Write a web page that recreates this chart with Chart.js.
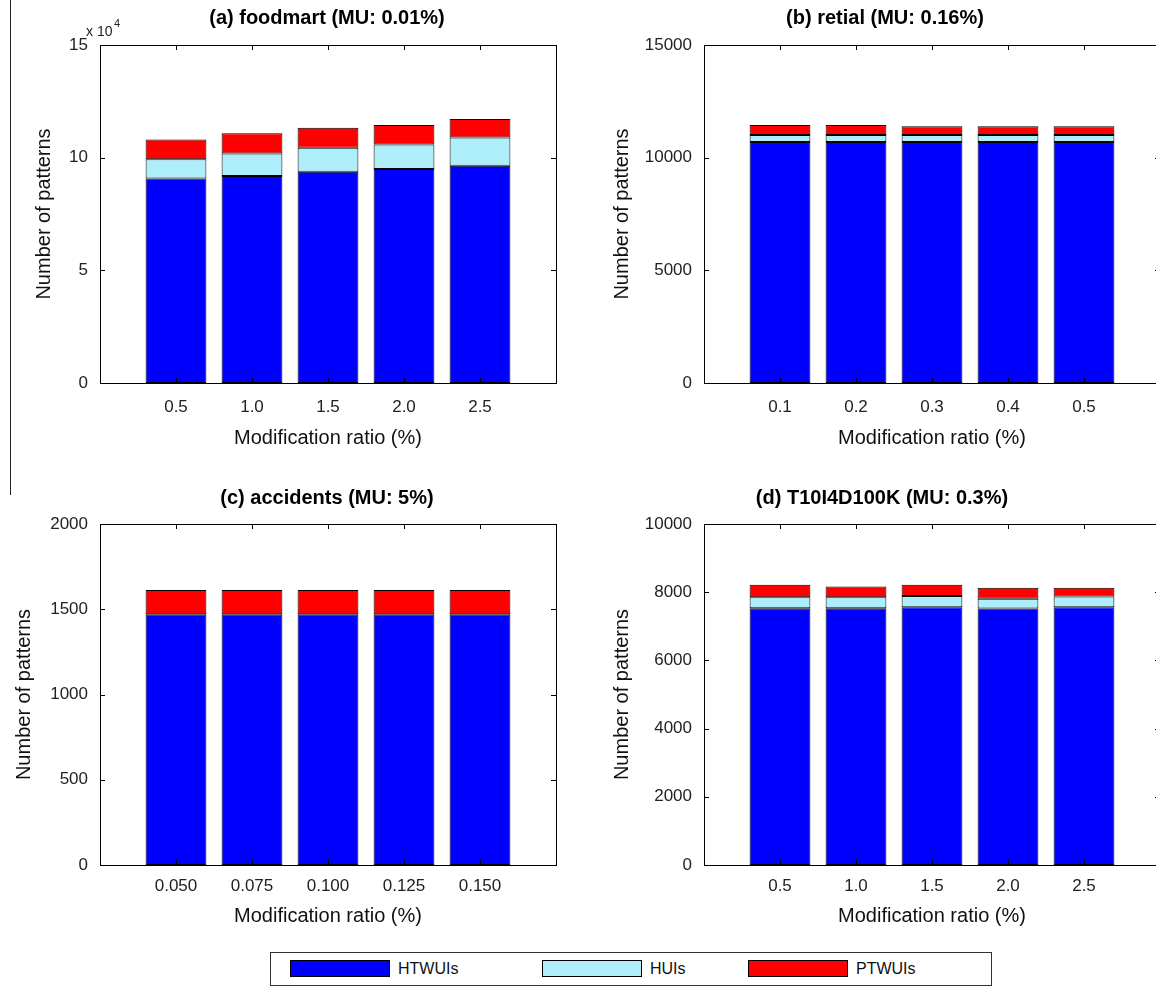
<!DOCTYPE html>
<html>
<head>
<meta charset="utf-8">
<title>Number of patterns vs modification ratio</title>
<script src="https://cdn.jsdelivr.net/npm/chart.js@4.4.1/dist/chart.umd.min.js"></script>
<style>
  html, body { margin: 0; padding: 0; width: 1156px; height: 987px; overflow: hidden; background: #fff; }
  .panel { position: absolute; }
  #sideLine { position: absolute; left: 10px; top: 0; width: 1px; height: 495px; background: #222; }
  #legend {
    position: absolute; left: 270px; top: 952px; width: 720px; height: 32px;
    border: 1px solid #333; background: #fff;
    font-family: 'Liberation Sans', Arial, sans-serif; font-size: 16px; color: #111;
  }
  #legend .item { position: absolute; top: 7px; height: 18px; line-height: 18px; }
  #legend .swatch { position: absolute; top: 0; left: 0; width: 100px; height: 17px; border: 1px solid #000; box-sizing: border-box; }
  #legend .label { position: absolute; left: 108px; top: 0; white-space: nowrap; }
</style>
</head>
<body>
<div id="sideLine"></div>
<canvas id="chartA" class="panel"></canvas>
<canvas id="chartB" class="panel"></canvas>
<canvas id="chartC" class="panel"></canvas>
<canvas id="chartD" class="panel"></canvas>
<div id="legend"></div>

<script>
// series
const seriesNames = ['HTWUIs', 'HUIs', 'PTWUIs'];
const seriesColors = ['#0000ff', '#aeeefa', '#ff0000'];

// (a) foodmart
const foodmartRatios = ['0.5', '1.0', '1.5', '2.0', '2.5'];
const foodmartHTWUIs = [90700, 91900, 93800, 95000, 96400];
const foodmartHUIs = [8600, 9900, 10600, 10800, 12500];
const foodmartPTWUIs = [8800, 9000, 8900, 8700, 8300];
const foodmartTicks = [0, 50000, 100000, 150000];

// (b) retial
const retailRatios = ['0.1', '0.2', '0.3', '0.4', '0.5'];
const retailHTWUIs = [10690, 10690, 10690, 10690, 10690];
const retailHUIs = [320, 320, 320, 320, 320];
const retailPTWUIs = [445, 445, 385, 385, 385];
const retailTicks = [0, 5000, 10000, 15000];

// (c) accidents
const accidentsRatios = ['0.050', '0.075', '0.100', '0.125', '0.150'];
const accidentsHTWUIs = [1470, 1470, 1470, 1470, 1470];
const accidentsHUIs = [0, 0, 0, 0, 0];
const accidentsPTWUIs = [143, 143, 143, 143, 143];
const accidentsTicks = [0, 500, 1000, 1500, 2000];

// (d) T10I4D100K
const t10Ratios = ['0.5', '1.0', '1.5', '2.0', '2.5'];
const t10HTWUIs = [7530, 7530, 7560, 7520, 7560];
const t10HUIs = [325, 325, 325, 290, 315];
const t10PTWUIs = [365, 315, 335, 320, 255];
const t10Ticks = [0, 2000, 4000, 6000, 8000, 10000];

const FONT = "'Liberation Sans', Arial, sans-serif";

// MATLAB style box, inward ticks, panel title
const matlabBox = {
  id: 'matlabBox',
  afterDraw(chart, args, opts) {
    const { ctx, chartArea: a, scales } = chart;
    ctx.save();
    ctx.strokeStyle = '#000';
    ctx.lineWidth = 1;
    ctx.strokeRect(Math.round(a.left) + 0.5, Math.round(a.top) + 0.5,
                   Math.round(a.right - a.left), Math.round(a.bottom - a.top));
    ctx.beginPath();
    scales.x.ticks.forEach(t => {
      const px = Math.round(scales.x.getPixelForValue(t.value)) + 0.5;
      ctx.moveTo(px, a.bottom); ctx.lineTo(px, a.bottom - 5);
      ctx.moveTo(px, a.top); ctx.lineTo(px, a.top + 5);
    });
    scales.y.ticks.forEach(t => {
      const py = Math.round(scales.y.getPixelForValue(t.value)) + 0.5;
      ctx.moveTo(a.left, py); ctx.lineTo(a.left + 5, py);
      ctx.moveTo(a.right, py); ctx.lineTo(a.right - 5, py);
    });
    ctx.stroke();

    ctx.fillStyle = '#000';
    ctx.font = 'bold 20px ' + FONT;
    ctx.textAlign = 'center';
    ctx.textBaseline = 'middle';
    ctx.fillText(opts.title, opts.titleX, 18);

    if (opts.exponent) {
      ctx.font = '14px ' + FONT;
      ctx.fillStyle = '#222';
      ctx.textAlign = 'left';
      ctx.fillText('x 10', 86, 32);
      ctx.font = '11px ' + FONT;
      ctx.fillText(opts.exponent, 114, 24);
    }
    ctx.restore();
  }
};

function makePanel(id, pos, cfg) {
  const canvas = document.getElementById(id);
  canvas.style.left = pos.left + 'px';
  canvas.style.top = pos.top + 'px';
  canvas.width = pos.width;
  canvas.height = pos.height;
  canvas.style.width = pos.width + 'px';
  canvas.style.height = pos.height + 'px';

  const stacks = [cfg.htwuis, cfg.huis, cfg.ptwuis];
  const datasets = stacks.map((vals, k) => ({
    label: seriesNames[k],
    data: vals.map((v, i) => ({ x: i + 1, y: v })),
    backgroundColor: seriesColors[k],
    borderColor: '#000',
    borderWidth: 1,
    borderSkipped: false,
    barPercentage: 1.0,
    categoryPercentage: 0.8
  }));

  return new Chart(canvas, {
    type: 'bar',
    data: { datasets },
    options: {
      responsive: false,
      animation: false,
      events: [],
      layout: { padding: { top: pos.plotTop, right: pos.width - pos.plotRight, left: 0, bottom: 0 } },
      plugins: {
        legend: { display: false },
        tooltip: { enabled: false },
        matlabBox: { title: cfg.title, titleX: cfg.titleX, exponent: cfg.exponent }
      },
      scales: {
        x: {
          type: 'linear',
          stacked: true,
          offset: false,
          min: 0,
          max: 6,
          afterBuildTicks: s => { s.ticks = cfg.ratios.map((r, i) => ({ value: i + 1 })); },
          afterFit: s => { s.height = pos.height - pos.plotBottom; },
          grid: { display: false, drawTicks: false },
          border: { display: false },
          ticks: {
            autoSkip: false, maxRotation: 0, padding: pos.xTickPad,
            color: '#222', font: { family: FONT, size: 17 },
            callback: v => cfg.ratios[v - 1] ?? ''
          },
          title: {
            display: true, text: 'Modification ratio (%)', color: '#111',
            font: { family: FONT, size: 20 }, padding: { top: 0, bottom: pos.xTitlePad }
          }
        },
        y: {
          stacked: true,
          min: cfg.yTicks[0],
          max: cfg.yTicks[cfg.yTicks.length - 1],
          afterBuildTicks: s => { s.ticks = cfg.yTicks.map(v => ({ value: v })); },
          afterFit: s => { s.width = pos.plotLeft; },
          grid: { display: false, drawTicks: false },
          border: { display: false },
          ticks: {
            padding: 12, color: '#222', font: { family: FONT, size: 17 },
            callback: v => cfg.yScale ? String(v / cfg.yScale) : String(v)
          },
          title: {
            display: true, text: 'Number of patterns', color: '#111',
            font: { family: FONT, size: 20 }, padding: { top: cfg.yTitlePad, bottom: 0 }
          }
        }
      }
    },
    plugins: [matlabBox]
  });
}

makePanel('chartA',
  { left: 0, top: 0, width: 580, height: 480, plotLeft: 100, plotRight: 556, plotTop: 45, plotBottom: 383, xTickPad: 14, xTitlePad: 30 },
  { title: '(a) foodmart (MU: 0.01%)', titleX: 327, exponent: '4', yScale: 10000, yTitlePad: 32,
    ratios: foodmartRatios, htwuis: foodmartHTWUIs, huis: foodmartHUIs, ptwuis: foodmartPTWUIs, yTicks: foodmartTicks });

makePanel('chartB',
  { left: 580, top: 0, width: 600, height: 480, plotLeft: 124, plotRight: 580, plotTop: 45, plotBottom: 383, xTickPad: 14, xTitlePad: 30 },
  { title: '(b) retial (MU: 0.16%)', titleX: 305, yTitlePad: 30,
    ratios: retailRatios, htwuis: retailHTWUIs, huis: retailHUIs, ptwuis: retailPTWUIs, yTicks: retailTicks });

makePanel('chartC',
  { left: 0, top: 480, width: 580, height: 470, plotLeft: 100, plotRight: 556, plotTop: 44, plotBottom: 385, xTickPad: 11, xTitlePad: 22 },
  { title: '(c) accidents (MU: 5%)', titleX: 327, yTitlePad: 12,
    ratios: accidentsRatios, htwuis: accidentsHTWUIs, huis: accidentsHUIs, ptwuis: accidentsPTWUIs, yTicks: accidentsTicks });

makePanel('chartD',
  { left: 580, top: 480, width: 600, height: 470, plotLeft: 124, plotRight: 580, plotTop: 44, plotBottom: 385, xTickPad: 11, xTitlePad: 22 },
  { title: '(d) T10I4D100K (MU: 0.3%)', titleX: 302, yTitlePad: 30,
    ratios: t10Ratios, htwuis: t10HTWUIs, huis: t10HUIs, ptwuis: t10PTWUIs, yTicks: t10Ticks });

// shared legend
const legendBox = document.getElementById('legend');
const legendLeft = [19, 271, 477];
seriesNames.forEach((name, k) => {
  const item = document.createElement('div');
  item.className = 'item';
  item.style.left = legendLeft[k] + 'px';
  item.innerHTML = '<span class="swatch" style="background:' + seriesColors[k] + '"></span><span class="label">' + name + '</span>';
  legendBox.appendChild(item);
});
</script>
</body>
</html>
